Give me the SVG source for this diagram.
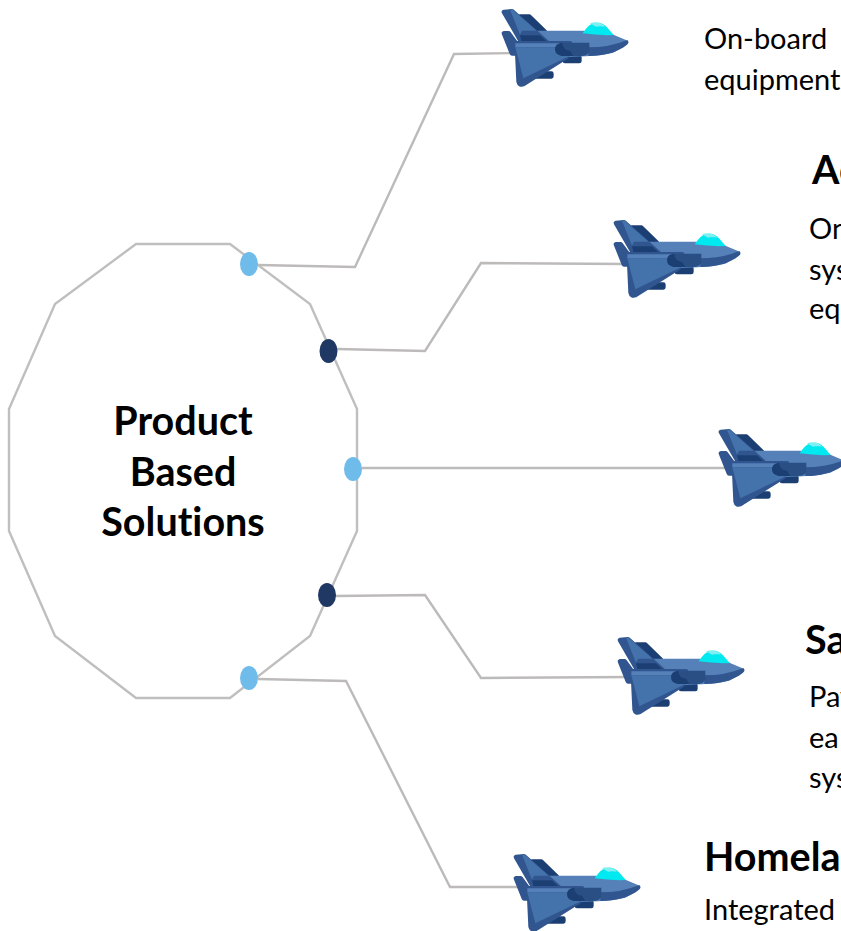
<svg xmlns="http://www.w3.org/2000/svg" width="841" height="931" viewBox="0 0 841 931">
<style>
text{font-family:"Lato","Carlito","Open Sans",sans-serif;fill:#000;font-variant-ligatures:none}
.t{font-size:29px}
.h{font-size:39.500px;font-weight:700}
.c{font-size:39.500px;font-weight:700;text-anchor:middle}
.l{fill:none;stroke:#bdbaba;stroke-width:2.4}
.d1{fill:#6fbbea}.d2{fill:#1f3864}
.r{stroke-linejoin:round;stroke-width:14}
</style>
<defs>
<g id="plane" transform="translate(-12 0) scale(.3333)">
<path class="r" fill="#1c3f73" stroke="#1c3f73" d="M90 50H118L165 96H130Z"/>
<path class="r" fill="#1c3f73" stroke="#1c3f73" d="M140 221H184V229H130Z"/>
<path class="r" fill="#1c3f73" stroke="#1c3f73" d="M235 172H268V183H225Z"/>
<path fill="#5580b8" d="M135 92H280L372 105L408 120Q416 128 408 134L370 158Q330 168 250 170L120 180Z"/>
<path fill="#31558f" d="M412 120Q420 128 410 135C385 155 345 168 295 168V142Q360 142 412 120Z"/>
<path fill="#00e8f0" d="M278 100C290 82 300 68 325 68C345 68 355 88 372 105Q325 107 278 100Z"/>
<path fill="#7ff0f2" d="M300 70C315 64 335 66 345 80C335 78 325 78 318 80Z"/>
<path class="r" fill="#31558f" stroke="#31558f" d="M42 36L66 34L172 128H95Z"/>
<path fill="#4472ab" d="M60 29H68L140 92H96L90 104Z"/>
<path fill="#1c3f73" d="M90 106H150L175 129H96Z"/>
<path class="r" fill="#31558f" stroke="#31558f" d="M42 100H56L78 130H240L230 170L100 252Q88 256 86 245L82 160H66Z"/>
<path fill="#5580b8" d="M76 130H210V142H76Z"/>
<path fill="#4472ab" d="M76 142H245V165L100 235Z"/>
<path fill="#2a4f85" d="M212 128H298V155Q290 168 275 168H212Z"/>
<path fill="#1c3f73" d="M216 128Q195 130 195 148Q195 165 216 168H250L240 152Q220 152 216 128Z"/>
</g>
</defs>
<g id="connectors">
<polyline class="l" points="258,265 355,267 454,54 515,53"/>
<polyline class="l" points="337,349 425,351 481,263 627,264"/>
<line class="l" x1="362" y1="468" x2="732" y2="468"/>
<polyline class="l" points="335,596 425,595 481,678 631,677"/>
<polyline class="l" points="258,679 346,681 450,887 527,887"/>
</g>
<g id="hub">
<polygon fill="none" stroke="#bfbfbf" stroke-width="2.4" points="136,244 230,244 310,304 357,409 357,531 310,636 230,698 136,698 55,636 9,531 9,409 55,304"/>
<text class="c" x="183" y="435">Product</text>
<text class="c" x="183" y="486">Based</text>
<text class="c" x="183" y="536">Solutions</text>
</g>
<g id="dots">
<ellipse class="d1" cx="249" cy="264" rx="9" ry="12"/>
<ellipse class="d2" cx="328.500" cy="351" rx="9" ry="12"/>
<ellipse class="d1" cx="353" cy="469" rx="9" ry="12"/>
<ellipse class="d2" cx="327" cy="595" rx="9" ry="12"/>
<ellipse class="d1" cx="249" cy="678" rx="9" ry="12"/>
</g>
<g id="node1"><use href="#plane" x="502" y="0"/>
<text class="t" x="704" y="49">On-board</text><text class="t" x="704" y="90">equipment</text></g>
<g id="node2"><use href="#plane" x="614" y="211"/>
<text class="h" x="812" y="184">Ac</text><text class="t" x="809" y="239">On</text><text class="t" x="809" y="280">sys</text><text class="t" x="809" y="319">eq</text></g>
<g id="node3"><use href="#plane" x="719" y="420"/></g>
<g id="node4"><use href="#plane" x="618" y="628"/>
<text class="h" x="805" y="654">Sa</text><text class="t" x="809" y="707">Pav</text><text class="t" x="809" y="748">ea</text><text class="t" x="809" y="788">sys</text></g>
<g id="node5"><use href="#plane" x="514" y="845"/>
<text class="h" x="704" y="871">Homela</text><text class="t" x="704" y="920">Integrated</text></g>
</svg>
